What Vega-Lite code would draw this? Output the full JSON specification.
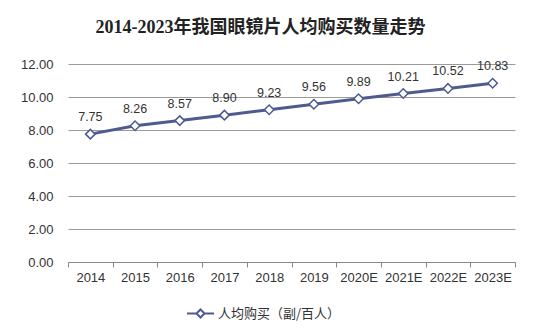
{
  "$schema": "https://vega.github.io/schema/vega-lite/v6.json",
  "width": 447,
  "height": 198,
  "autosize": {"type": "none"},
  "padding": {"left": 68, "top": 64, "right": 20, "bottom": 74},
  "background": "white",
  "title": {
    "text": "2014-2023年我国眼镜片人均购买数量走势",
    "font": "Liberation Serif, Noto Sans CJK SC",
    "fontSize": 18,
    "fontWeight": "bold",
    "color": "#222222",
    "anchor": "middle",
    "dx": -31,
    "offset": 21
  },
  "data": {
    "values": [
      {"year": "2014", "v": 7.75, "series": "人均购买（副/百人）"},
      {"year": "2015", "v": 8.26, "series": "人均购买（副/百人）"},
      {"year": "2016", "v": 8.57, "series": "人均购买（副/百人）"},
      {"year": "2017", "v": 8.90, "series": "人均购买（副/百人）"},
      {"year": "2018", "v": 9.23, "series": "人均购买（副/百人）"},
      {"year": "2019", "v": 9.56, "series": "人均购买（副/百人）"},
      {"year": "2020E", "v": 9.89, "series": "人均购买（副/百人）"},
      {"year": "2021E", "v": 10.21, "series": "人均购买（副/百人）"},
      {"year": "2022E", "v": 10.52, "series": "人均购买（副/百人）"},
      {"year": "2023E", "v": 10.83, "series": "人均购买（副/百人）"}
    ]
  },
  "encoding": {
    "x": {
      "field": "year",
      "type": "nominal",
      "sort": null,
      "title": null,
      "axis": {
        "labelAngle": 0,
        "tickBand": "extent",
        "domainColor": "#888888",
        "tickColor": "#888888",
        "tickSize": 5,
        "labelPadding": 4,
        "labelFont": "Liberation Sans",
        "labelFontSize": 13,
        "labelColor": "#333333",
        "grid": false
      }
    },
    "y": {
      "field": "v",
      "type": "quantitative",
      "scale": {"domain": [0, 12]},
      "title": null,
      "axis": {
        "values": [0, 2, 4, 6, 8, 10, 12],
        "format": ".2f",
        "grid": true,
        "gridColor": "#9a9a9a",
        "domain": false,
        "ticks": false,
        "labelPadding": 15,
        "labelFont": "Liberation Sans",
        "labelFontSize": 13,
        "labelColor": "#333333"
      }
    }
  },
  "layer": [
    {
      "mark": {"type": "line", "strokeWidth": 3},
      "encoding": {
        "color": {
          "field": "series",
          "type": "nominal",
          "scale": {"range": ["#4E5B8F"]},
          "legend": {
            "orient": "none",
            "legendX": 126,
            "legendY": 243,
            "title": null,
            "symbolType": "M-2.7,0H-0.8M0.8,0H2.7M0,-0.8L0.8,0L0,0.8L-0.8,0Z",
            "symbolSize": 100,
            "symbolStrokeWidth": 2,
            "labelOffset": 11,
            "labelFont": "Noto Sans CJK SC",
            "labelFontSize": 13,
            "labelColor": "#333333",
            "encode": {"symbols": {"update": {"fill": {"value": "white"}}}}
          }
        }
      }
    },
    {
      "mark": {"type": "point", "shape": "diamond", "size": 90, "filled": false, "fill": "white", "fillOpacity": 1, "stroke": "#4E5B8F", "strokeWidth": 1.5, "opacity": 1}
    },
    {
      "mark": {"type": "text", "dy": -17, "font": "Liberation Sans", "fontSize": 12.5, "color": "#333333"},
      "encoding": {"text": {"field": "v", "type": "quantitative", "format": ".2f"}}
    }
  ],
  "config": {"view": {"stroke": null}}
}
